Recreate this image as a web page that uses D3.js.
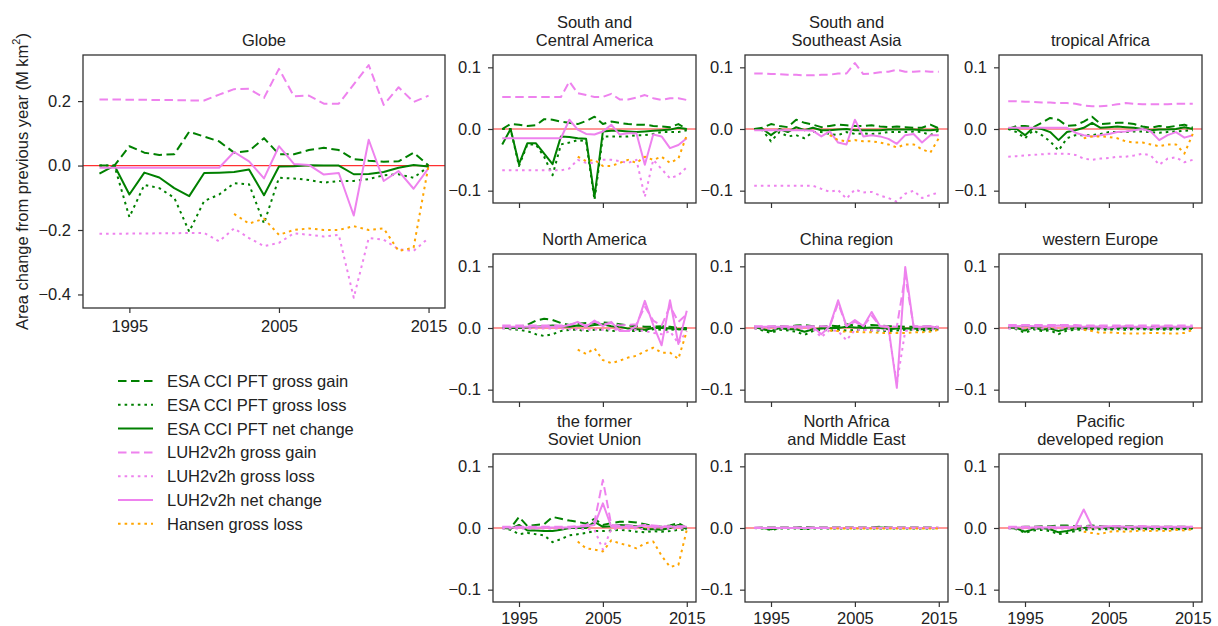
<!DOCTYPE html>
<html>
<head>
<meta charset="utf-8">
<script src="https://cdn.jsdelivr.net/npm/d3@7"></script>
<style>
  body { margin: 0; background: #fff; }
  svg text { font-family: "Liberation Sans", Arial, sans-serif; fill: #222; }
</style>
</head>
<body>
<div id="chart-container"></div>
<script>
const years = [1993, 1994, 1995, 1996, 1997, 1998, 1999, 2000, 2001, 2002, 2003, 2004,
  2005, 2006, 2007, 2008, 2009, 2010, 2011, 2012, 2013, 2014, 2015];

// panel order: Globe, S&C America, S&SE Asia, tropical Africa, North America,
// China, western Europe, former SU, N Africa & ME, Pacific developed
const regionTitles = [
  ['Globe'],
  ['South and', 'Central America'],
  ['South and', 'Southeast Asia'],
  ['tropical Africa'],
  ['North America'],
  ['China region'],
  ['western Europe'],
  ['the former', 'Soviet Union'],
  ['North Africa', 'and Middle East'],
  ['Pacific', 'developed region']
];

const xTicks = [1995, 2005, 2015];
const globeYTicks = [-0.4, -0.2, 0.0, 0.2];
const regionYTicks = [-0.1, 0.0, 0.1];

const esaGain = [
  [0.000, 0.000, 0.060, 0.040, 0.033, 0.035, 0.105, 0.090, 0.075, 0.040, 0.045, 0.085, 0.035, 0.035, 0.048, 0.055, 0.048, 0.020, 0.015, 0.012, 0.013, 0.040, 0.000],
  [0.000, 0.008, 0.007, 0.005, 0.006, 0.016, 0.015, 0.012, 0.010, 0.008, 0.013, 0.020, 0.008, 0.012, 0.010, 0.008, 0.007, 0.007, 0.005, 0.004, 0.003, 0.008, 0.000],
  [0.000, 0.002, 0.008, 0.005, 0.003, 0.015, 0.010, 0.007, 0.003, 0.005, 0.007, 0.006, 0.005, 0.005, 0.006, 0.004, 0.003, 0.004, 0.003, 0.002, 0.002, 0.007, 0.001],
  [0.000, 0.005, 0.005, 0.003, 0.010, 0.018, 0.015, 0.005, 0.006, 0.012, 0.020, 0.008, 0.009, 0.010, 0.010, 0.008, 0.004, 0.002, 0.005, 0.003, 0.005, 0.007, 0.002],
  [0.000, 0.000, 0.002, 0.005, 0.012, 0.015, 0.013, 0.008, 0.005, 0.007, 0.008, 0.008, 0.009, 0.008, 0.006, 0.004, 0.003, 0.002, 0.002, 0.003, 0.002, 0.000, 0.000],
  [0.002, 0.001, 0.002, 0.003, 0.002, 0.004, 0.005, 0.003, 0.002, 0.004, 0.003, 0.006, 0.004, 0.003, 0.005, 0.004, 0.003, 0.003, 0.002, 0.002, 0.002, 0.003, 0.001],
  [0.001, 0.002, 0.004, 0.003, 0.002, 0.003, 0.005, 0.003, 0.002, 0.002, 0.002, 0.003, 0.002, 0.002, 0.003, 0.002, 0.002, 0.002, 0.002, 0.002, 0.002, 0.002, 0.001],
  [0.000, 0.000, 0.018, 0.003, 0.005, 0.006, 0.018, 0.015, 0.012, 0.010, 0.007, 0.015, 0.005, 0.008, 0.010, 0.010, 0.009, 0.006, 0.003, 0.002, 0.004, 0.008, 0.000],
  [0.000, 0.001, 0.001, 0.001, 0.001, 0.001, 0.002, 0.001, 0.001, 0.001, 0.001, 0.001, 0.001, 0.001, 0.001, 0.002, 0.001, 0.001, 0.001, 0.001, 0.001, 0.001, 0.000],
  [0.000, 0.001, 0.002, 0.002, 0.003, 0.003, 0.004, 0.004, 0.003, 0.003, 0.004, 0.003, 0.002, 0.003, 0.003, 0.003, 0.002, 0.002, 0.002, 0.002, 0.002, 0.002, 0.001]
];

const esaLoss = [
  [0.000, 0.000, -0.160, -0.060, -0.070, -0.100, -0.205, -0.110, -0.090, -0.055, -0.058, -0.180, -0.038, -0.040, -0.045, -0.053, -0.048, -0.048, -0.042, -0.030, -0.027, -0.038, -0.003],
  [0.000, 0.000, -0.060, -0.025, -0.025, -0.045, -0.075, -0.025, -0.022, -0.018, -0.020, -0.115, -0.012, -0.012, -0.012, -0.012, -0.010, -0.010, -0.008, -0.005, -0.005, -0.005, -0.002],
  [0.000, -0.002, -0.020, -0.005, -0.012, -0.010, -0.015, -0.005, -0.005, -0.008, -0.010, -0.005, -0.008, -0.007, -0.008, -0.007, -0.005, -0.005, -0.005, -0.004, -0.005, -0.010, -0.002],
  [0.000, -0.005, -0.015, -0.002, -0.010, -0.020, -0.035, -0.015, -0.010, -0.010, -0.010, -0.008, -0.005, -0.005, -0.005, -0.004, -0.004, -0.005, -0.006, -0.005, -0.004, -0.003, -0.002],
  [0.000, -0.002, -0.003, -0.005, -0.010, -0.013, -0.010, -0.005, -0.003, -0.003, -0.005, -0.003, -0.003, -0.005, -0.004, -0.005, -0.005, -0.005, -0.002, -0.003, -0.003, -0.002, -0.002],
  [0.000, -0.004, -0.008, -0.003, -0.004, -0.006, -0.011, -0.005, -0.003, -0.004, -0.003, -0.004, -0.003, -0.003, -0.004, -0.004, -0.005, -0.004, -0.003, -0.003, -0.004, -0.004, -0.002],
  [0.000, -0.002, -0.008, -0.002, -0.005, -0.004, -0.010, -0.004, -0.003, -0.002, -0.003, -0.002, -0.003, -0.002, -0.003, -0.002, -0.002, -0.003, -0.002, -0.003, -0.002, -0.002, -0.001],
  [0.000, -0.003, -0.010, -0.008, -0.010, -0.012, -0.023, -0.018, -0.012, -0.010, -0.008, -0.005, -0.005, -0.004, -0.003, -0.004, -0.006, -0.007, -0.005, -0.006, -0.005, -0.003, -0.003],
  [0.000, -0.001, -0.003, -0.001, -0.001, -0.001, -0.002, -0.001, -0.001, -0.001, -0.001, -0.001, -0.001, -0.001, -0.001, -0.001, -0.001, -0.001, -0.001, -0.001, -0.001, -0.001, 0.000],
  [0.000, -0.002, -0.008, -0.004, -0.003, -0.005, -0.010, -0.008, -0.005, -0.003, -0.002, -0.002, -0.002, -0.002, -0.002, -0.002, -0.002, -0.002, -0.002, -0.002, -0.002, -0.002, -0.001]
];

const esaNet = [
  [-0.025, 0.000, -0.090, -0.022, -0.037, -0.070, -0.095, -0.023, -0.022, -0.020, -0.012, -0.092, -0.003, -0.002, 0.001, 0.000, 0.000, -0.027, -0.026, -0.020, -0.007, 0.002, -0.003],
  [-0.025, 0.000, -0.057, -0.023, -0.023, -0.040, -0.057, -0.012, -0.013, -0.015, -0.016, -0.110, -0.004, -0.003, -0.003, -0.004, -0.005, -0.004, -0.003, -0.002, -0.001, 0.002, 0.000],
  [0.000, 0.000, -0.010, 0.000, -0.005, 0.003, -0.002, 0.002, -0.002, -0.002, -0.001, 0.000, -0.002, -0.002, -0.002, -0.002, -0.001, -0.001, -0.001, -0.001, -0.002, -0.002, -0.001],
  [0.000, 0.000, -0.010, 0.002, 0.000, -0.005, -0.018, -0.005, -0.002, 0.002, 0.010, 0.002, 0.003, 0.004, 0.003, 0.002, 0.000, -0.002, -0.001, -0.001, 0.000, 0.003, 0.000],
  [0.000, 0.000, 0.000, 0.001, 0.002, 0.003, 0.004, 0.003, 0.002, 0.004, 0.003, 0.005, 0.006, 0.003, 0.002, -0.001, -0.002, -0.003, 0.000, 0.000, -0.001, -0.002, -0.002],
  [0.002, -0.002, -0.005, 0.000, -0.002, -0.002, -0.006, -0.002, -0.001, 0.000, 0.000, 0.002, 0.001, 0.000, 0.001, 0.000, -0.002, -0.001, -0.001, -0.001, -0.002, -0.001, -0.001],
  [0.001, 0.000, -0.004, 0.001, -0.003, -0.001, -0.005, -0.001, -0.001, 0.000, -0.001, 0.001, -0.001, 0.000, 0.000, 0.000, 0.000, -0.001, 0.000, -0.001, 0.000, 0.000, 0.000],
  [0.000, -0.001, 0.005, -0.004, -0.004, -0.005, -0.005, -0.003, 0.000, 0.000, 0.000, 0.010, 0.002, 0.003, 0.005, 0.004, 0.003, -0.002, -0.002, -0.003, 0.000, 0.005, -0.002],
  [0.000, 0.000, -0.002, 0.000, 0.000, 0.000, -0.001, 0.000, 0.000, 0.000, 0.000, 0.000, 0.000, 0.000, 0.000, 0.001, 0.000, 0.000, 0.000, 0.000, 0.000, 0.000, 0.000],
  [0.000, -0.001, -0.006, -0.002, 0.000, -0.002, -0.007, -0.005, -0.002, 0.000, 0.002, 0.001, 0.000, 0.001, 0.001, 0.001, 0.000, 0.000, 0.000, 0.000, 0.000, 0.000, 0.000]
];

const luhGain = [
  [0.205, 0.205, 0.204, 0.204, 0.203, 0.203, 0.202, 0.202, 0.220, 0.237, 0.238, 0.210, 0.300, 0.215, 0.217, 0.192, 0.192, 0.252, 0.312, 0.188, 0.243, 0.197, 0.217],
  [0.052, 0.052, 0.052, 0.052, 0.052, 0.052, 0.052, 0.052, 0.077, 0.058, 0.055, 0.052, 0.052, 0.057, 0.048, 0.048, 0.051, 0.055, 0.050, 0.047, 0.050, 0.050, 0.047],
  [0.090, 0.090, 0.089, 0.089, 0.088, 0.088, 0.087, 0.087, 0.088, 0.088, 0.090, 0.090, 0.107, 0.089, 0.090, 0.092, 0.093, 0.096, 0.093, 0.093, 0.094, 0.093, 0.093],
  [0.045, 0.045, 0.044, 0.044, 0.043, 0.043, 0.042, 0.042, 0.041, 0.038, 0.037, 0.037, 0.038, 0.040, 0.042, 0.041, 0.040, 0.040, 0.040, 0.040, 0.041, 0.041, 0.041],
  [0.004, 0.004, 0.004, 0.004, 0.004, 0.004, 0.004, 0.004, 0.005, 0.008, 0.004, 0.010, 0.006, 0.008, 0.004, 0.005, 0.006, 0.035, 0.012, 0.004, 0.035, 0.010, 0.022],
  [0.003, 0.003, 0.003, 0.003, 0.003, 0.003, 0.003, 0.003, 0.003, 0.003, 0.040, 0.003, 0.010, 0.003, 0.020, 0.003, 0.003, 0.002, 0.085, 0.003, 0.003, 0.003, 0.002],
  [0.005, 0.005, 0.005, 0.005, 0.005, 0.005, 0.005, 0.005, 0.005, 0.004, 0.004, 0.004, 0.004, 0.004, 0.004, 0.004, 0.004, 0.004, 0.004, 0.004, 0.004, 0.004, 0.004],
  [0.002, 0.002, 0.002, 0.002, 0.002, 0.002, 0.002, 0.002, 0.002, 0.003, 0.005, 0.010, 0.078, 0.005, 0.004, 0.004, 0.003, 0.005, 0.004, 0.003, 0.003, 0.003, 0.003],
  [0.001, 0.001, 0.001, 0.001, 0.001, 0.001, 0.001, 0.001, 0.001, 0.001, 0.001, 0.001, 0.001, 0.001, 0.001, 0.001, 0.001, 0.001, 0.001, 0.001, 0.001, 0.001, 0.001],
  [0.002, 0.002, 0.002, 0.002, 0.002, 0.002, 0.002, 0.002, 0.002, 0.004, 0.002, 0.002, 0.003, 0.003, 0.002, 0.002, 0.003, 0.002, 0.002, 0.002, 0.002, 0.002, 0.002]
];

const luhLoss = [
  [-0.212, -0.212, -0.211, -0.211, -0.210, -0.210, -0.209, -0.209, -0.235, -0.195, -0.225, -0.250, -0.240, -0.210, -0.215, -0.220, -0.215, -0.410, -0.225, -0.230, -0.260, -0.265, -0.225],
  [-0.067, -0.067, -0.067, -0.067, -0.067, -0.067, -0.067, -0.067, -0.064, -0.050, -0.055, -0.055, -0.050, -0.050, -0.052, -0.055, -0.050, -0.110, -0.050, -0.065, -0.080, -0.075, -0.062],
  [-0.092, -0.092, -0.092, -0.092, -0.092, -0.092, -0.092, -0.092, -0.097, -0.102, -0.099, -0.113, -0.098, -0.103, -0.102, -0.108, -0.112, -0.118, -0.105, -0.100, -0.112, -0.107, -0.103],
  [-0.045, -0.044, -0.043, -0.042, -0.041, -0.040, -0.040, -0.040, -0.042, -0.048, -0.050, -0.048, -0.047, -0.045, -0.045, -0.043, -0.040, -0.043, -0.058, -0.048, -0.046, -0.054, -0.050],
  [-0.001, -0.001, -0.001, -0.001, -0.001, -0.001, -0.001, -0.001, -0.002, -0.002, -0.003, -0.002, -0.003, -0.002, -0.003, -0.005, -0.003, -0.005, -0.008, -0.010, -0.005, -0.025, -0.005],
  [-0.001, -0.001, -0.001, -0.001, -0.001, -0.001, -0.001, -0.001, -0.015, -0.003, -0.005, -0.020, -0.003, -0.003, -0.004, -0.003, -0.003, -0.090, -0.005, -0.002, -0.002, -0.002, -0.002],
  [-0.001, -0.001, -0.001, -0.001, -0.001, -0.001, -0.001, -0.001, -0.001, -0.001, -0.001, -0.001, -0.001, -0.001, -0.001, -0.001, -0.001, -0.001, -0.001, -0.001, -0.001, -0.001, -0.001],
  [-0.001, -0.001, -0.001, -0.001, -0.001, -0.001, -0.001, -0.001, -0.001, -0.001, -0.002, -0.003, -0.035, -0.002, -0.001, -0.001, -0.001, -0.002, -0.001, -0.001, -0.001, -0.001, -0.001],
  [0.000, 0.000, 0.000, 0.000, 0.000, 0.000, 0.000, 0.000, 0.000, 0.000, 0.000, 0.000, 0.000, 0.000, 0.000, 0.000, 0.000, 0.000, 0.000, 0.000, 0.000, 0.000, 0.000],
  [-0.001, -0.001, -0.001, -0.001, -0.001, -0.001, -0.001, -0.001, -0.001, -0.001, -0.001, -0.001, -0.001, -0.001, -0.001, -0.001, -0.001, -0.001, -0.001, -0.001, -0.001, -0.001, -0.001]
];

const luhNet = [
  [-0.007, -0.007, -0.007, -0.007, -0.007, -0.007, -0.007, -0.007, -0.007, 0.042, 0.013, -0.040, 0.060, 0.005, 0.002, -0.028, -0.023, -0.155, 0.080, -0.048, -0.017, -0.072, -0.008],
  [-0.015, -0.015, -0.015, -0.015, -0.015, -0.015, -0.015, -0.015, 0.015, -0.001, -0.008, -0.009, -0.004, 0.007, -0.009, -0.007, -0.007, -0.058, -0.009, -0.012, -0.031, -0.026, -0.015],
  [-0.002, -0.002, -0.002, -0.002, -0.002, -0.002, -0.002, -0.003, -0.012, -0.004, -0.022, -0.025, 0.015, -0.012, -0.010, -0.012, -0.016, -0.024, -0.010, -0.008, -0.022, -0.010, -0.010],
  [0.002, 0.002, 0.002, 0.002, 0.002, 0.002, 0.002, 0.002, -0.006, -0.010, -0.012, -0.010, -0.008, -0.005, -0.004, -0.002, 0.000, -0.004, -0.018, -0.010, -0.005, -0.014, -0.010],
  [0.002, 0.002, 0.002, 0.002, 0.002, 0.002, 0.002, 0.002, 0.005, 0.010, 0.002, 0.012, 0.003, 0.010, -0.005, -0.005, 0.003, 0.044, 0.005, -0.028, 0.045, -0.026, 0.028],
  [0.002, 0.002, 0.002, 0.002, 0.002, 0.002, 0.002, 0.002, -0.010, 0.003, 0.045, 0.003, 0.013, 0.003, 0.026, 0.003, 0.002, -0.097, 0.099, 0.002, 0.002, 0.003, 0.000],
  [0.003, 0.003, 0.004, 0.003, 0.003, 0.003, 0.004, 0.003, 0.003, 0.002, 0.003, 0.002, 0.001, 0.002, 0.003, 0.002, 0.002, 0.001, 0.002, 0.003, 0.002, 0.002, 0.002],
  [0.001, 0.001, 0.001, 0.001, 0.001, 0.001, 0.001, 0.001, 0.001, 0.002, 0.003, 0.005, 0.040, 0.002, 0.002, 0.002, 0.002, 0.004, 0.002, 0.002, 0.002, 0.002, 0.002],
  [0.000, 0.000, 0.000, 0.000, 0.000, 0.000, 0.000, 0.000, 0.000, 0.000, 0.000, 0.000, 0.000, 0.000, 0.000, 0.000, 0.000, 0.000, 0.000, 0.000, 0.000, 0.000, 0.000],
  [0.001, 0.001, 0.001, 0.001, 0.001, 0.001, 0.001, 0.001, 0.002, 0.030, 0.002, 0.002, 0.003, 0.003, 0.002, 0.002, 0.003, 0.002, 0.002, 0.002, 0.002, 0.002, 0.002]
];

// Hansen starts in 2002
const hansenLoss = [
  [null, null, null, null, null, null, null, null, null, -0.150, -0.180, -0.165, -0.215, -0.200, -0.195, -0.200, -0.200, -0.188, -0.200, -0.195, -0.265, -0.255, 0.000],
  [null, null, null, null, null, null, null, null, null, -0.045, -0.052, -0.050, -0.060, -0.060, -0.055, -0.050, -0.055, -0.045, -0.050, -0.045, -0.055, -0.048, -0.010],
  [null, null, null, null, null, null, null, null, null, -0.010, -0.018, -0.020, -0.018, -0.020, -0.020, -0.022, -0.025, -0.030, -0.025, -0.025, -0.033, -0.038, -0.015],
  [null, null, null, null, null, null, null, null, null, -0.015, -0.012, -0.012, -0.013, -0.015, -0.020, -0.022, -0.022, -0.025, -0.028, -0.025, -0.025, -0.040, -0.008],
  [null, null, null, null, null, null, null, null, null, -0.035, -0.042, -0.033, -0.052, -0.057, -0.053, -0.048, -0.045, -0.038, -0.032, -0.040, -0.040, -0.050, -0.005],
  [null, null, null, null, null, null, null, null, null, -0.004, -0.005, -0.006, -0.006, -0.007, -0.007, -0.008, -0.008, -0.008, -0.008, -0.007, -0.007, -0.006, -0.003],
  [null, null, null, null, null, null, null, null, null, -0.003, -0.005, -0.008, -0.007, -0.008, -0.009, -0.009, -0.009, -0.008, -0.008, -0.009, -0.009, -0.008, -0.003],
  [null, null, null, null, null, null, null, null, null, -0.022, -0.033, -0.035, -0.038, -0.020, -0.025, -0.028, -0.033, -0.025, -0.022, -0.045, -0.063, -0.060, -0.003],
  [null, null, null, null, null, null, null, null, null, -0.001, -0.001, -0.001, -0.001, -0.001, -0.001, -0.001, -0.001, -0.001, -0.001, -0.001, -0.001, -0.001, -0.001],
  [null, null, null, null, null, null, null, null, null, -0.006, -0.008, -0.010, -0.006, -0.005, -0.006, -0.005, -0.004, -0.005, -0.004, -0.005, -0.003, -0.004, -0.002]
];

const seriesNames = [
  'ESA CCI PFT gross gain', 'ESA CCI PFT gross loss', 'ESA CCI PFT net change',
  'LUH2v2h gross gain', 'LUH2v2h gross loss', 'LUH2v2h net change', 'Hansen gross loss'
];

const GREEN = '#008000';
const VIOLET = '#ee82ee';
const ORANGE = '#ffa500';
const DASH = '8.5,4.5';
const DOT = '2.6,4';
const FONT = 16.5;

const seriesStyles = [
  { data: esaGain, color: GREEN, dash: DASH },
  { data: esaLoss, color: GREEN, dash: DOT },
  { data: esaNet, color: GREEN, dash: null },
  { data: luhGain, color: VIOLET, dash: DASH },
  { data: luhLoss, color: VIOLET, dash: DOT },
  { data: luhNet, color: VIOLET, dash: null },
  { data: hansenLoss, color: ORANGE, dash: DOT }
];

const width = 1218;
const height = 626;

const svg = d3.select('#chart-container')
  .append('svg')
  .attr('width', width)
  .attr('height', height);

// Panel layout
const colLeft = [493, 745, 999];
const rowTop = [55, 254, 454];
const panels = [{ x: 83, y: 55, w: 362, h: 253, yDomain: [-0.442, 0.343], yTicks: globeYTicks, xLabels: true, pad: 7 }];
for (let i = 1; i < 10; i++) {
  const r = Math.floor((i - 1) / 3);
  const c = (i - 1) % 3;
  panels.push({ x: colLeft[c], y: rowTop[r], w: 203, h: 148, yDomain: [-0.12, 0.12], yTicks: regionYTicks, xLabels: r === 2, pad: 5 });
}

panels.forEach((p, i) => {
  const g = svg.append('g').attr('transform', `translate(${p.x},${p.y})`);
  const x = d3.scaleLinear().domain([1991.9, 2016.1]).range([0, p.w]);
  const y = d3.scaleLinear().domain(p.yDomain).range([p.h, 0]);

  // Title
  const lines = regionTitles[i];
  lines.forEach((t, k) => {
    g.append('text')
      .attr('x', p.w / 2)
      .attr('y', -15 - (lines.length - 1 - k) * 18)
      .attr('text-anchor', 'middle')
      .attr('dominant-baseline', 'central')
      .attr('font-size', FONT)
      .text(t);
  });

  // zero line
  g.append('line')
    .attr('x1', 0).attr('x2', p.w)
    .attr('y1', y(0)).attr('y2', y(0))
    .attr('stroke', '#ff3030')
    .attr('stroke-width', 1.2);

  const line = d3.line()
    .defined((d) => d != null)
    .x((d, j) => x(years[j]))
    .y((d) => y(d));

  seriesStyles.forEach((s) => {
    g.append('path')
      .attr('d', line(s.data[i]))
      .attr('fill', 'none')
      .attr('stroke', s.color)
      .attr('stroke-width', 2)
      .attr('stroke-dasharray', s.dash)
      .attr('stroke-linejoin', 'round');
  });

  // Axes
  const yAxis = d3.axisLeft(y)
    .tickValues(p.yTicks)
    .tickFormat(d3.format('.1f'))
    .tickSize(5)
    .tickPadding(7);
  const xAxis = d3.axisBottom(x)
    .tickValues(xTicks)
    .tickFormat(p.xLabels ? d3.format('d') : () => '')
    .tickSize(5)
    .tickPadding(p.pad);

  const ya = g.append('g').call(yAxis);
  const xa = g.append('g').attr('transform', `translate(0,${p.h})`).call(xAxis);
  [ya, xa].forEach((a) => {
    a.select('.domain').remove();
    a.selectAll('line').attr('stroke', '#333').attr('stroke-width', 1.2);
    a.selectAll('text').attr('font-size', FONT).attr('fill', '#222')
      .attr('font-family', '"Liberation Sans", Arial, sans-serif');
  });

  // Frame
  g.append('rect')
    .attr('width', p.w).attr('height', p.h)
    .attr('fill', 'none')
    .attr('stroke', '#333')
    .attr('stroke-width', 1.3);
});

// Y-axis label
const yl = svg.append('text')
  .attr('transform', 'translate(22,181.5) rotate(-90)')
  .attr('text-anchor', 'middle')
  .attr('dominant-baseline', 'central')
  .attr('font-size', FONT);
yl.append('tspan').text('Area change from previous year (M km');
yl.append('tspan').attr('baseline-shift', 'super').attr('font-size', 11).text('2');
yl.append('tspan').text(')');

// Legend
const legend = svg.append('g');
seriesNames.forEach((name, k) => {
  const s = seriesStyles[k];
  const yy = 381 + k * 23.8;
  legend.append('line')
    .attr('x1', 118).attr('x2', 153)
    .attr('y1', yy).attr('y2', yy)
    .attr('stroke', s.color)
    .attr('stroke-width', 2)
    .attr('stroke-dasharray', s.dash);
  legend.append('text')
    .attr('x', 167)
    .attr('y', yy)
    .attr('dominant-baseline', 'central')
    .attr('font-size', FONT)
    .text(name);
});
</script>
</body>
</html>
